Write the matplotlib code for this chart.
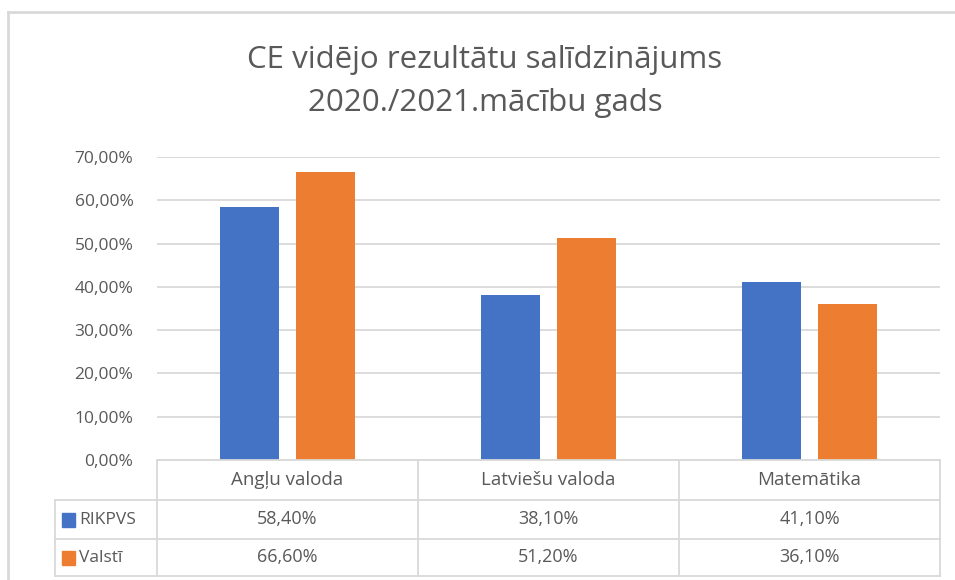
import matplotlib.pyplot as plt
import numpy as np
from matplotlib.lines import Line2D
from matplotlib.patches import Rectangle

categories = ["Angļu valoda", "Latviešu valoda", "Matemātika"]
series_names = ["RIKPVS", "Valstī"]
rikpvs = [58.4, 38.1, 41.1]
valsti = [66.6, 51.2, 36.1]
yticks = [0, 10, 20, 30, 40, 50, 60, 70]

colors = ["#4472C4", "#ED7D31"]
grid_c = "#D9D9D9"
text_c = "#595959"
plt.rcParams["font.family"] = ["Open Sans", "DejaVu Sans"]

W, H = 955, 580
fig = plt.figure(figsize=(W / 100, H / 100), dpi=100)

def fx(px):
    return px / W

def fy(py):
    return 1 - py / H

# plot area
left, right, top, bottom = 157, 940, 157, 460
ax = fig.add_axes([fx(left), fy(bottom), fx(right - left), (bottom - top) / H])
x = np.arange(len(categories))
w = 0.226
ax.bar(x - 0.145, rikpvs, w, color=colors[0], zorder=3)
ax.bar(x + 0.145, valsti, w, color=colors[1], zorder=3)
ax.set_xlim(-0.5, 2.5)
ax.set_ylim(0, 70)
ax.set_yticks(yticks)
ax.set_yticklabels([f"{v:.2f}%".replace(".", ",") for v in yticks],
                   color=text_c, fontsize=12.5)
ax.set_xticks([])
ax.tick_params(axis="y", length=0, pad=17)
ax.grid(axis="y", color=grid_c, linewidth=1.3, zorder=0)
for s in ax.spines.values():
    s.set_visible(False)

# title
fig.text(fx(485), fy(60), "CE vidējo rezultātu salīdzinājums", ha="center",
         va="center", fontsize=22.5, color=text_c)
fig.text(fx(485), fy(103), "2020./2021.mācību gads", ha="center",
         va="center", fontsize=22.5, color=text_c)

# chart border
fig.add_artist(Line2D([fx(8), fx(8)], [fy(12), 0], transform=fig.transFigure,
                      color=grid_c, linewidth=2))
fig.add_artist(Line2D([fx(8), 1], [fy(12), fy(12)], transform=fig.transFigure,
                      color=grid_c, linewidth=2))

# data table
col_edges = [157, 418, 679, 940]
row_edges = [460, 500, 539, 576]
tab_left = 55

def hline(py, x0, x1):
    fig.add_artist(Line2D([fx(x0), fx(x1)], [fy(py), fy(py)],
                          transform=fig.transFigure, color=grid_c, linewidth=1.3))

def vline(px, y0, y1):
    fig.add_artist(Line2D([fx(px), fx(px)], [fy(y0), fy(y1)],
                          transform=fig.transFigure, color=grid_c, linewidth=1.3))

hline(460, 157, 940)
for r in row_edges[1:]:
    hline(r, tab_left, 940)
vline(tab_left, 500, 576)
for c in col_edges:
    vline(c, 460, 576)

for i, cat in enumerate(categories):
    cx = (col_edges[i] + col_edges[i + 1]) / 2
    fig.text(fx(cx), fy(480), cat, ha="center", va="center",
             fontsize=13.5, color=text_c)

for j, (name, vals) in enumerate(zip(series_names, [rikpvs, valsti])):
    cy = (row_edges[j + 1] + row_edges[j + 2]) / 2
    fig.add_artist(Rectangle((fx(62), fy(cy + 7)), fx(13), 14 / H,
                             transform=fig.transFigure, color=colors[j]))
    fig.text(fx(79), fy(cy), name, ha="left", va="center",
             fontsize=12.5, color=text_c)
    for i, v in enumerate(vals):
        cx = (col_edges[i] + col_edges[i + 1]) / 2
        fig.text(fx(cx), fy(cy), f"{v:.2f}%".replace(".", ","), ha="center",
                 va="center", fontsize=13, color=text_c)

fig.savefig("out.png", dpi=100)
